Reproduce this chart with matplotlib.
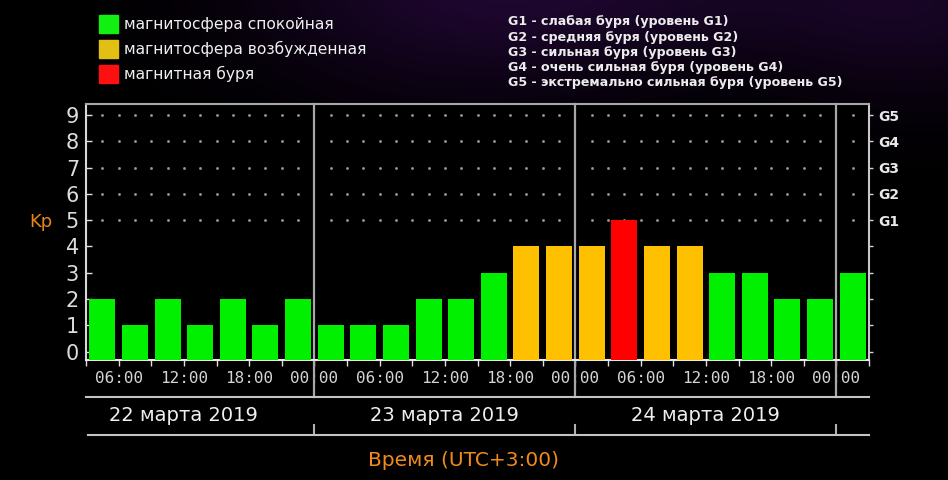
import numpy as np
import matplotlib.pyplot as plt

# --- data ---
kp = [2, 1, 2, 1, 2, 1, 2,
      1, 1, 1, 2, 2, 3, 4, 4,
      4, 5, 4, 4, 3, 3, 2, 2,
      3]
slot_hours = 3                      # each bar = 3 hours
time_labels = ['06:00', '12:00', '18:00', '00:00'] * 3
day_labels = ['22 марта 2019', '23 марта 2019', '24 марта 2019']
day_breaks = [21, 45, 69]           # hours from 03:00 22 March
g_labels = ['G1', 'G2', 'G3', 'G4', 'G5']
legend_items = ['магнитосфера спокойная', 'магнитосфера возбужденная', 'магнитная буря']
legend_colors = ['#11f011', '#e2c013', '#ff1010']
g_notes = ['G1 - слабая буря (уровень G1)',
           'G2 - средняя буря (уровень G2)',
           'G3 - сильная буря (уровень G3)',
           'G4 - очень сильная буря (уровень G4)',
           'G5 - экстремально сильная буря (уровень G5)']

W, H = 948, 480
fig = plt.figure(figsize=(W / 100, H / 100), dpi=100)
fig.patch.set_facecolor('black')

# faint purple glow in the background
bg = fig.add_axes([0, 0, 1, 1], zorder=-10)
yy, xx = np.mgrid[0:H, 0:W]
glow = np.zeros((H, W))
for cx, cy, sx, sy, a in [(470, -20, 150, 80, 0.8), (920, 0, 110, 70, 0.6), (700, -10, 120, 50, 0.35)]:
    glow += a * np.exp(-((xx - cx) ** 2 / (2 * sx ** 2) + (yy - cy) ** 2 / (2 * sy ** 2)))
glow = np.clip(glow, 0, 1)
img = np.dstack([glow * 0.14, glow * 0.03, glow * 0.22])
bg.imshow(img, aspect='auto', extent=[0, 1, 0, 1])
bg.axis('off')

def fx(px):
    return px / W

def fy(py):
    return 1 - py / H

ax = fig.add_axes([fx(86), fy(360), fx(869) - fx(86), fy(103.5) - fy(360)])
ax.set_facecolor('black')

n = len(kp)
x_end = n * slot_hours
ymin, ymax = -0.32, 9.44
ax.set_xlim(0, x_end)
ax.set_ylim(ymin, ymax)

def bar_color(v):
    if v >= 5:
        return '#ff0000'
    if v >= 4:
        return '#ffc000'
    return '#00f000'

centers = [slot_hours * i + slot_hours / 2 for i in range(n)]
ax.bar(centers, [v - ymin for v in kp], bottom=ymin, width=slot_hours * 0.8,
       color=[bar_color(v) for v in kp], zorder=3)

# dotted grid for levels 5..9
dot_x = [k * 1.5 for k in range(1, int(x_end / 1.5)) if k * 1.5 not in day_breaks]
for lvl in range(5, 10):
    ax.plot(dot_x, [lvl] * len(dot_x), ls='none', marker='s', ms=0.9,
            color='#9a9a9a', zorder=1)

# day separators
for xb in day_breaks:
    ax.axvline(xb, ymin=-0.145, ymax=1, color='#a8a8a8', lw=1.6, clip_on=False, zorder=2)
    ax.plot([xb, xb], [-0.253, -0.29], transform=ax.get_xaxis_transform(),
            color='#b0b0b0', lw=1.5, clip_on=False)

# lines under time labels and date labels
ax.plot([0, x_end], [-0.145, -0.145], transform=ax.get_xaxis_transform(),
        color='#c4c4c4', lw=1.5, clip_on=False)
ax.plot([0.2, x_end], [-0.293, -0.293], transform=ax.get_xaxis_transform(),
        color='#c4c4c4', lw=1.5, clip_on=False)

for spine, c in [('left', '#d8d8d8'), ('bottom', '#e8e8e8'), ('top', '#a8a8a8'), ('right', '#c8c8c8')]:
    ax.spines[spine].set_color(c)
    ax.spines[spine].set_linewidth(1.5)

# y axis (left)
ax.set_yticks(range(10))
ax.set_yticklabels([str(i) for i in range(10)], fontsize=15, color='#dcdcdc',
                   family='DejaVu Sans')
ax.tick_params(axis='y', direction='in', length=4, width=1, color='#e0e0e0', pad=5)

# x axis
label_pos = [3 + 6 * i for i in range(len(time_labels))]
ax.set_xticks(label_pos)
ax.set_xticklabels(time_labels, fontsize=11.5, color='#d4d4d4', family='DejaVu Sans Mono')
ax.set_xticks([3 * i for i in range(n + 1) if 3 * i not in label_pos], minor=True)
ax.tick_params(axis='x', which='both', direction='out', length=4, width=1,
               color='#e0e0e0', pad=4)

# right axis with storm levels
ax2 = ax.twinx()
ax2.set_ylim(ymin, ymax)
ax2.set_yticks(range(10))
ax2.set_yticklabels([''] * 5 + g_labels, fontsize=10, fontweight='bold', color='#e8e8e8')
ax2.tick_params(axis='y', direction='out', length=3, width=1, color='#d0d0d0', pad=4)
for s in ax2.spines.values():
    s.set_visible(False)

# day labels centred on calendar days
for i, d in enumerate(day_labels):
    ax.text(day_breaks[i] - 12, -0.215, d, transform=ax.get_xaxis_transform(),
            ha='center', va='center', fontsize=14, color='#f0f0f0')

fig.text(fx(464), fy(461), 'Время (UTC+3:00)', ha='center', va='center',
         fontsize=14.5, color='#f08a1c')
fig.text(fx(41), fy(222), 'Kp', ha='center', va='center', fontsize=13, color='#e8851c')

# legend
for i, (lab, c) in enumerate(zip(legend_items, legend_colors)):
    yc = 24 + 25 * i
    fig.patches.append(plt.Rectangle((fx(99), fy(yc + 9)), fx(19), fy(0) - fy(18),
                                     transform=fig.transFigure, color=c))
    fig.text(fx(124), fy(yc), lab, ha='left', va='center', fontsize=11.2, color='#f0f0f0')

for i, t in enumerate(g_notes):
    fig.text(fx(508), fy(22 + 15.2 * i), t, ha='left', va='center', fontsize=9.1,
             fontweight='bold', color='#ececec')

fig.savefig('out.png', dpi=100, facecolor='black')
